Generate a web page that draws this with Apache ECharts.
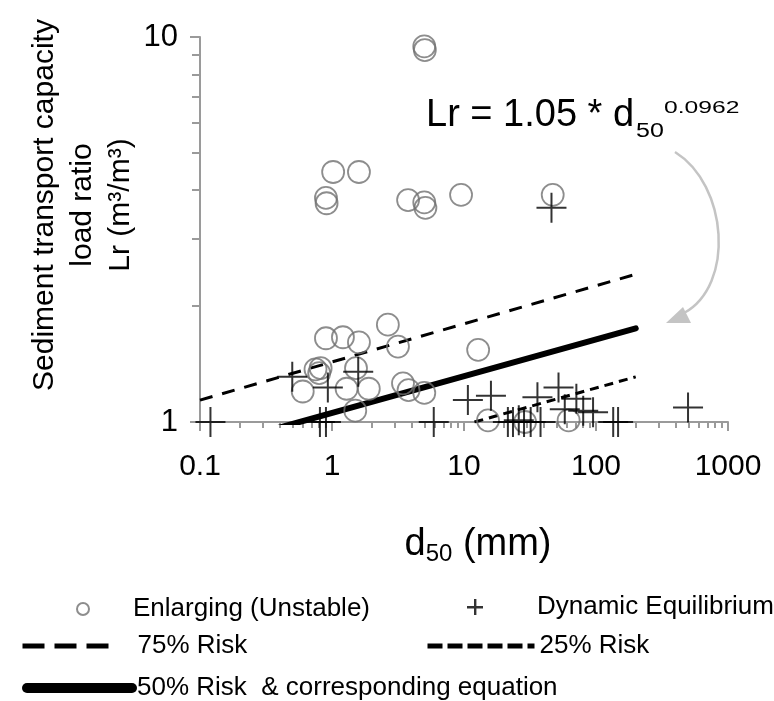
<!DOCTYPE html>
<html>
<head>
<meta charset="utf-8">
<script src="https://cdn.jsdelivr.net/npm/echarts@6.0.0/dist/echarts.min.js"></script>
<style>
  html, body { margin: 0; padding: 0; background: #fff; }
  #grafico { width: 774px; height: 701px; }
</style>
</head>
<body>
<div id="grafico"></div>
<script>
// ===== dados =====
const enlargingX = [5.0, 5.05, 1.02, 1.6, 0.9, 0.91, 3.77, 5.0, 5.1, 9.5, 47, 2.65, 0.9, 1.21, 1.6, 3.16, 12.8, 0.75, 0.8, 0.82, 1.52, 0.6, 1.29, 1.9, 3.45, 3.8, 5.0, 1.5, 15.2, 29, 62];
const enlargingY = [9.45, 9.25, 4.46, 4.46, 3.82, 3.7, 3.77, 3.72, 3.6, 3.89, 3.89, 1.79, 1.65, 1.66, 1.61, 1.57, 1.54, 1.37, 1.34, 1.38, 1.38, 1.2, 1.22, 1.22, 1.26, 1.21, 1.19, 1.07, 1.01, 1.0, 1.01];

const equilibriumX = [0.12, 0.5, 0.81, 0.9, 0.93, 1.58, 5.9, 10.7, 16, 21.5, 23.5, 26, 28.5, 32, 36, 38, 46, 52, 58, 71, 80, 95, 135, 147, 498];
const equilibriumY = [1.0, 1.31, 1.0, 1.0, 1.23, 1.35, 1.0, 1.14, 1.17, 1.0, 1.0, 1.01, 1.0, 1.0, 1.16, 1.0, 3.6, 1.23, 1.08, 1.15, 1.07, 1.06, 1.0, 1.0, 1.09];

const risk75X = [0.1, 200];
const risk75Y = [1.14, 2.42];
const risk50X = [0.35, 200];
const risk50Y = [0.955, 1.75];
const risk25X = [12, 200];
const risk25Y = [1.0, 1.31];

const xMajorTicks = [0.1, 1, 10, 100, 1000];
const xMinorTicks = [0.2, 0.3, 0.4, 0.5, 0.6, 0.7, 0.8, 0.9, 2, 3, 4, 5, 6, 7, 8, 9, 20, 30, 40, 50, 60, 70, 80, 90, 200, 300, 400, 500, 600, 700, 800, 900];
const yMajorTicks = [1, 10];
const yMinorTicks = [2, 3, 4, 5, 6, 7, 8, 9];

const nomes = ['Enlarging (Unstable)', 'Dynamic Equilibrium', '75% Risk', '25% Risk', '50% Risk  & corresponding equation'];

// ===== suporte =====
const zip = (xs, ys) => xs.map((x, i) => [x, ys[i]]);
const fonte = '"Liberation Sans", Arial, sans-serif';
const corEixo = '#9a9a9a';
const cruz = 'path://M14,0h2v30h-2zM0,14h30v2h-30z';
const cruzLegenda = 'path://M7,0h2.4v16h-2.4zM0,7h16v2.4h-16z';

const myChart = echarts.init(document.getElementById('grafico'));

function eixoX(ticks, comprimento, mostrarLinha, mostrarRotulo) {
    return {
        type: 'log', logBase: 10, min: 0.1, max: 1000, position: 'bottom',
        axisLine: { show: mostrarLinha, onZero: false, lineStyle: { color: corEixo, width: 2 } },
        axisTick: { show: true, customValues: ticks, length: comprimento, lineStyle: { color: corEixo, width: 2 } },
        axisLabel: {
            show: mostrarRotulo, customValues: xMajorTicks, margin: 30, fontSize: 30, color: '#000', fontFamily: fonte,
            formatter: v => String(v)
        },
        splitLine: { show: false }
    };
}

function eixoY(ticks, comprimento, mostrarLinha, mostrarRotulo) {
    return {
        type: 'log', logBase: 10, min: 1, max: 10, position: 'left',
        axisLine: { show: mostrarLinha, onZero: false, lineStyle: { color: corEixo, width: 2 } },
        axisTick: { show: true, customValues: ticks, length: comprimento, lineStyle: { color: corEixo, width: 2 } },
        axisLabel: {
            show: mostrarRotulo, customValues: yMajorTicks, margin: 22, fontSize: 31, color: '#000', fontFamily: fonte,
            formatter: v => String(v)
        },
        splitLine: { show: false }
    };
}

function legenda(item, left, top, largura, altura, extra) {
    return Object.assign({
        data: [item], left: left, top: top, padding: 0,
        itemWidth: largura, itemHeight: altura, selectedMode: false,
        textStyle: { fontSize: 26, color: '#000', fontFamily: fonte }
    }, extra || {});
}

const option = {
    animation: false,
    backgroundColor: '#fff',
    grid: { left: 200, top: 37, right: 46, bottom: 279, containLabel: false },
    xAxis: [eixoX(xMajorTicks, 9, true, true), eixoX(xMinorTicks, 6, false, false)],
    yAxis: [eixoY(yMajorTicks, 10, true, true), eixoY(yMinorTicks, 8, false, false)],
    legend: [
        legenda(nomes[0], 76, 596, 90, 12),
        legenda({ name: nomes[1], icon: cruzLegenda }, 467, 594, 114, 16),
        legenda(nomes[2], 20, 633, 88, 14, {
            itemStyle: { opacity: 0 },
            lineStyle: { width: 5, type: [22, 10], color: '#000' },
            textStyle: { fontSize: 26, color: '#000', fontFamily: fonte, padding: [0, 0, 0, 22] }
        }),
        legenda(nomes[3], 425, 633, 107, 14, {
            itemStyle: { opacity: 0 },
            lineStyle: { width: 5, type: [15, 5], color: '#000' }
        }),
        legenda(nomes[4], 22, 675, 105, 14, {
            itemStyle: { opacity: 0 },
            lineStyle: { width: 10, color: '#000', cap: 'round' }
        })
    ],
    series: [
        {
            name: nomes[2], type: 'line', data: zip(risk75X, risk75Y), symbol: 'none', z: 2,
            lineStyle: { color: '#000', width: 3, type: [13, 10] }, itemStyle: { color: '#000' }
        },
        {
            name: nomes[3], type: 'line', data: zip(risk25X, risk25Y), symbol: 'none', z: 2,
            lineStyle: { color: '#000', width: 3, type: [9, 6] }, itemStyle: { color: '#000' }
        },
        {
            name: nomes[4], type: 'line', data: zip(risk50X, risk50Y), symbol: 'none', z: 2,
            lineStyle: { color: '#000', width: 6, cap: 'round' }, itemStyle: { color: '#000' }
        },
        {
            name: nomes[0], type: 'scatter', data: zip(enlargingX, enlargingY), symbol: 'circle', symbolSize: 22, z: 3,
            itemStyle: { color: 'rgba(255,255,255,0)', borderColor: '#707070', borderWidth: 1.8 }
        },
        {
            name: nomes[1], type: 'scatter', data: zip(equilibriumX, equilibriumY), symbol: cruz, symbolSize: 30, z: 4,
            itemStyle: { color: '#000' }
        }
    ],
    graphic: [
        {
            type: 'text', x: 83, y: 205, rotation: Math.PI / 2,
            style: {
                text: 'Sediment transport capacity\nload ratio\nLr (m³/m³)',
                font: '30px ' + fonte, fill: '#000', align: 'center', verticalAlign: 'middle', lineHeight: 38
            }
        },
        {
            type: 'text', x: 478, y: 545,
            style: {
                text: '{a|d}{s|50}{a| (mm)}', align: 'center', verticalAlign: 'middle', fill: '#000',
                rich: {
                    a: { fontSize: 38, fontFamily: fonte, fill: '#000', lineHeight: 44 },
                    s: { fontSize: 24, fontFamily: fonte, fill: '#000', lineHeight: 44, padding: [18, 0, 0, 0] }
                }
            }
        },
        // equação
        { type: 'text', x: 426, y: 116, style: { text: 'Lr = 1.05 * d', font: '38px ' + fonte, fill: '#000', verticalAlign: 'middle' } },
        { type: 'text', x: 636, y: 131, scaleX: 1.25, style: { text: '50', font: '20px ' + fonte, fill: '#000', verticalAlign: 'middle' } },
        { type: 'text', x: 664, y: 108, scaleX: 1.45, style: { text: '0.0962', font: '17px ' + fonte, fill: '#000', verticalAlign: 'middle' } },
        // seta cinza
        {
            type: 'bezierCurve',
            shape: { x1: 675, y1: 152, cpx1: 728, cpy1: 185, cpx2: 735, cpy2: 285, x2: 684, y2: 313 },
            style: { stroke: '#c4c4c4', lineWidth: 2.5, fill: null }
        },
        {
            type: 'polygon',
            shape: { points: [[666, 323], [683, 307], [691, 323]] },
            style: { fill: '#c4c4c4' }
        }
    ]
};

myChart.setOption(option);
</script>
</body>
</html>
